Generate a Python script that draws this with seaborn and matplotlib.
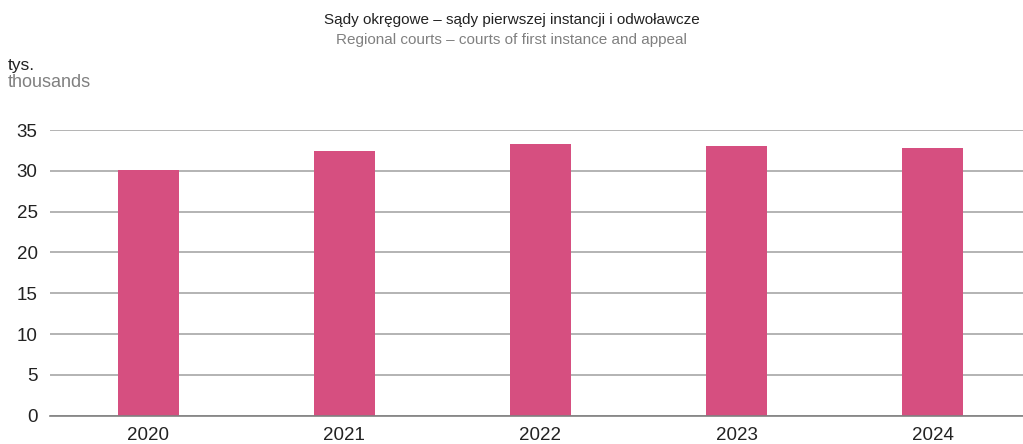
import matplotlib
matplotlib.use("Agg")
import matplotlib.pyplot as plt
import seaborn as sns
import pandas as pd

# -------------------------------
# DATA
# -------------------------------
years = ["2020", "2021", "2022", "2023", "2024"]
values = [30.1, 32.4, 33.35, 33.1, 32.85]

title_pl = "Sądy okręgowe – sądy pierwszej instancji i odwoławcze"
title_en = "Regional courts – courts of first instance and appeal"
unit_pl = "tys."
unit_en = "thousands"
y_ticks = [0, 5, 10, 15, 20, 25, 30, 35]

BAR_COLOR = "#D64F80"
GRID_COLOR = "#B3B3B3"
SUB_COLOR = "#808080"

df = pd.DataFrame({"year": years, "value": values})

sns.set_theme(style="white")
plt.rcParams["font.family"] = ["Liberation Sans", "DejaVu Sans"]

fig = plt.figure(figsize=(10.23, 4.44), dpi=100)
ax = fig.add_axes([0.049, 0.064, 0.951, 0.643])

sns.barplot(data=df, x="year", y="value", color=BAR_COLOR, width=0.31,
            saturation=1, linewidth=0, ax=ax, zorder=3)

ax.set_ylim(0, 35)
ax.set_xlim(-0.5, 4.46)
ax.set_yticks(y_ticks)
ax.yaxis.grid(True, color=GRID_COLOR, linewidth=1.4, zorder=0)
ax.set_axisbelow(True)
ax.set_xlabel("")
ax.set_ylabel("")

for s in ["top", "right", "left"]:
    ax.spines[s].set_visible(False)
ax.spines["bottom"].set_color("#808080")
ax.spines["bottom"].set_linewidth(1.2)
ax.spines["bottom"].set_zorder(4)

ax.tick_params(axis="both", length=0, labelsize=13.5, colors="#222222")
ax.tick_params(axis="x", pad=8.5)
ax.tick_params(axis="y", pad=9)

fig.text(0.5, 0.955, title_pl, ha="center", va="center", fontsize=11, color="#222222")
fig.text(0.5, 0.91, title_en, ha="center", va="center", fontsize=11, color=SUB_COLOR)
fig.text(0.008, 0.853, unit_pl, ha="left", va="center", fontsize=12.5, color="#222222")
fig.text(0.008, 0.815, unit_en, ha="left", va="center", fontsize=13, color=SUB_COLOR)

plt.savefig("out.png", dpi=100)
plt.close()
